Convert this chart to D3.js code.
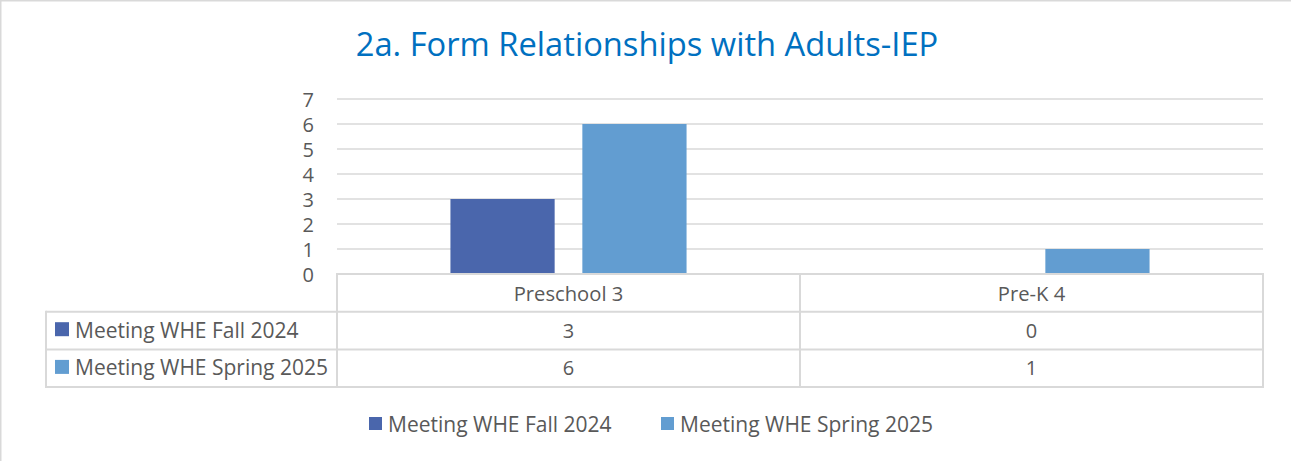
<!DOCTYPE html>
<html lang="en">
<head>
  <meta charset="utf-8">
  <script src="https://d3js.org/d3.v7.min.js"></script>
  <style>
    body { margin: 0; background: #fff; }
    text { font-family: "Open Sans", sans-serif; }
  </style>
</head>
<body>
  <div id="chart"></div>
  <script>
    var categories = ["Preschool 3", "Pre-K 4"];
    var seriesNames = ["Meeting WHE Fall 2024", "Meeting WHE Spring 2025"];
    var fallValues = [3, 0];
    var springValues = [6, 1];
    var yTicks = [0, 1, 2, 3, 4, 5, 6, 7];

    var seriesValues = [fallValues, springValues];
    var colors = ["#4A66AC", "#629DD1"];
    var textColor = "#595959";
    var lineColor = "#D9D9D9";

    var width = 1291;
    var height = 461;

    var svg = d3.select('#chart')
      .append('svg')
      .attr('width', width)
      .attr('height', height);

    // outer chart frame (only top/left visible)
    svg.append('rect')
      .attr('x', 0.75).attr('y', 0.75)
      .attr('width', width + 4).attr('height', height + 4)
      .attr('fill', 'none')
      .attr('stroke', lineColor)
      .attr('stroke-width', 1.5);

    // title
    svg.append('text')
      .attr('x', 647)
      .attr('y', 56)
      .attr('text-anchor', 'middle')
      .attr('fill', '#0070C0')
      .style('font-size', '32.7px')
      .text('2a. Form Relationships with Adults-IEP');

    var plotLeft = 337, plotRight = 1263, plotTop = 99, plotBottom = 274;

    var x0 = d3.scaleBand()
      .domain(categories)
      .range([plotLeft, plotRight])
      .padding(0);

    var x1 = d3.scaleBand()
      .domain(seriesNames)
      .range([0, x0.bandwidth()])
      .paddingInner(0.21)
      .paddingOuter(0.86);

    var y = d3.scaleLinear()
      .domain([0, 7])
      .range([plotBottom, plotTop]);

    // gridlines
    svg.append('g')
      .selectAll('line')
      .data(yTicks.filter(function (d) { return d > 0; }))
      .enter()
      .append('line')
      .attr('x1', plotLeft)
      .attr('x2', plotRight)
      .attr('y1', function (d) { return y(d); })
      .attr('y2', function (d) { return y(d); })
      .attr('stroke', lineColor)
      .attr('stroke-width', 1.5);

    // y axis labels
    var yAxis = d3.axisLeft(y)
      .tickValues(yTicks)
      .tickSize(0)
      .tickPadding(0)
      .tickFormat(d3.format('d'));

    var yg = svg.append('g')
      .attr('transform', 'translate(314,0)')
      .call(yAxis);
    yg.select('.domain').remove();
    yg.selectAll('text')
      .attr('fill', textColor)
      .attr('dy', '0.35em')
      .style('font-size', '20px')
      .style('font-family', '"Open Sans", sans-serif');

    // bars
    var groups = svg.append('g')
      .selectAll('g')
      .data(categories)
      .enter()
      .append('g')
      .attr('transform', function (d) { return 'translate(' + x0(d) + ',0)'; });

    groups.selectAll('rect')
      .data(function (d, i) {
        return seriesNames.map(function (s, j) {
          return { series: s, value: seriesValues[j][i], color: colors[j] };
        });
      })
      .enter()
      .append('rect')
      .attr('x', function (d) { return x1(d.series); })
      .attr('width', x1.bandwidth())
      .attr('y', function (d) { return y(d.value); })
      .attr('height', function (d) { return y(0) - y(d.value); })
      .attr('fill', function (d) { return d.color; });

    // data table
    var rowH = 37.7;
    var tableLeft = 46;
    var table = svg.append('g');

    var hLines = [
      { y: plotBottom, x1: plotLeft, x2: plotRight },
      { y: plotBottom + rowH, x1: tableLeft, x2: plotRight },
      { y: plotBottom + rowH * 2, x1: tableLeft, x2: plotRight },
      { y: plotBottom + rowH * 3, x1: tableLeft, x2: plotRight }
    ];
    table.selectAll('line.h')
      .data(hLines)
      .enter()
      .append('line')
      .attr('class', 'h')
      .attr('x1', function (d) { return d.x1; })
      .attr('x2', function (d) { return d.x2; })
      .attr('y1', function (d) { return d.y; })
      .attr('y2', function (d) { return d.y; })
      .attr('stroke', lineColor)
      .attr('stroke-width', 2);

    var vLines = [
      { x: tableLeft, y1: plotBottom + rowH, y2: plotBottom + rowH * 3 },
      { x: plotLeft, y1: plotBottom, y2: plotBottom + rowH * 3 },
      { x: x0(categories[1]), y1: plotBottom, y2: plotBottom + rowH * 3 },
      { x: plotRight, y1: plotBottom, y2: plotBottom + rowH * 3 }
    ];
    table.selectAll('line.v')
      .data(vLines)
      .enter()
      .append('line')
      .attr('class', 'v')
      .attr('x1', function (d) { return d.x; })
      .attr('x2', function (d) { return d.x; })
      .attr('y1', function (d) { return d.y1 - 1; })
      .attr('y2', function (d) { return d.y2 + 1; })
      .attr('stroke', lineColor)
      .attr('stroke-width', 2);

    // category labels row
    table.selectAll('text.cat')
      .data(categories)
      .enter()
      .append('text')
      .attr('class', 'cat')
      .attr('x', function (d) { return x0(d) + x0.bandwidth() / 2; })
      .attr('y', plotBottom + 26.5)
      .attr('text-anchor', 'middle')
      .attr('fill', textColor)
      .style('font-size', '20.2px')
      .text(function (d) { return d; });

    // series rows
    seriesNames.forEach(function (s, j) {
      var rowY = plotBottom + rowH * (j + 1);
      table.append('rect')
        .attr('x', 55)
        .attr('y', rowY + 10.5)
        .attr('width', 14)
        .attr('height', 14)
        .attr('fill', colors[j]);
      table.append('text')
        .attr('x', 75)
        .attr('y', rowY + 26)
        .attr('fill', textColor)
        .style('font-size', '21px')
        .text(s);
      table.selectAll('text.v' + j)
        .data(seriesValues[j])
        .enter()
        .append('text')
        .attr('class', 'v' + j)
        .attr('x', function (d, i) { return x0(categories[i]) + x0.bandwidth() / 2; })
        .attr('y', rowY + 26)
        .attr('text-anchor', 'middle')
        .attr('fill', textColor)
        .style('font-size', '20px')
        .text(function (d) { return d; });
    });

    // bottom legend
    var legendX = [369, 661];
    var legend = svg.append('g')
      .selectAll('g')
      .data(seriesNames)
      .enter()
      .append('g')
      .attr('transform', function (d, i) { return 'translate(' + legendX[i] + ',417)'; });

    legend.append('rect')
      .attr('width', 13)
      .attr('height', 13)
      .attr('fill', function (d, i) { return colors[i]; });

    legend.append('text')
      .attr('x', 19)
      .attr('y', 14.5)
      .attr('fill', textColor)
      .style('font-size', '21px')
      .text(function (d) { return d; });
  </script>
</body>
</html>
